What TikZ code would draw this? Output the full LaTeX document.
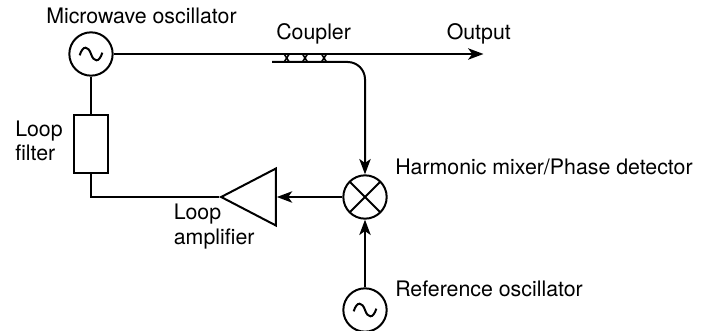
\documentclass[tikz,border=0pt]{standalone}
\usepackage{fontspec}
\setmainfont{TeX Gyre Heros}
\usetikzlibrary{positioning,arrows.meta,calc,shapes.geometric}

\tikzset{
  wire/.style={line width=1.5pt},
  feed/.style={wire, -{Stealth[length=11.5pt,width=8.5pt,inset=3pt]}},
  ring/.style={draw, circle, line width=1.5pt, minimum size=32.5pt, inner sep=0pt},
  osc/.style={ring, path picture={
    \draw[wire] (-8.5pt,-1pt) .. controls (-6pt,7pt) and (-2pt,6pt) .. (0pt,0pt)
      .. controls (2pt,-6pt) and (6pt,-7pt) .. (8.5pt,1pt);}},
  mixer/.style={ring, path picture={
    \draw[wire] (path picture bounding box.north west) -- (path picture bounding box.south east);
    \draw[wire] (path picture bounding box.north east) -- (path picture bounding box.south west);}},
  filterbox/.style={draw, rectangle, line width=1.5pt, minimum width=25.5pt, minimum height=43.5pt, inner sep=0pt},
  amp/.style={draw, isosceles triangle, isosceles triangle apex angle=55, shape border rotate=180,
    line width=1.5pt, minimum height=41pt, inner sep=0pt},
  lbl/.style={inner sep=0pt, font=\fontsize{16}{18.5}\selectfont, align=left}
}

\begin{document}
\begin{tikzpicture}[x=0.75pt, y=-0.75pt]
  \useasboundingbox (0,0) rectangle (709,331);

  \node (micro) [osc] at (91,54) {};
  \node (refosc) [osc] at (365,310) {};
  \node (mixing) [mixer] at (365,197) {};
  \node (filter) [filterbox] at (91,144) {};
  \node (loopamp) [amp, anchor=apex] at (219,197) {};
  \coordinate (bend) at (91,197);
  \coordinate (output) at (483.5,54);
  \coordinate (couplerend) at (272,62);
  \coordinate (couplerturn) at (365,62);

  \draw[wire] (micro) -- (filter);
  \draw[wire] (filter) -- (bend) -- (loopamp.apex);
  \draw[feed] (micro) -- (output);
  \draw[feed, rounded corners=13pt] (couplerend) -- (couplerturn) -- (mixing);
  \draw[feed] (mixing) -- (loopamp.east |- mixing);
  \draw[feed] (refosc) -- (mixing);

  % coupling crosses
  \foreach \xx in {286.7,305,324} {
    \draw[line width=1.2pt] (\xx-2.5,54) -- (\xx+2.5,62);
    \draw[line width=1.2pt] (\xx+2.5,54) -- (\xx-2.5,62);
  }

  \node (microlbl) [lbl, anchor=base west] at (46,24) {Microwave oscillator};
  \node (couplerlbl) [lbl, anchor=base west] at (276,40) {Coupler};
  \node (outputlbl) [lbl, anchor=base west] at (446.5,40) {Output};
  \node (filterlbl) [lbl, anchor=base west] at (15,161) {Loop\\filter};
  \node (amplbl) [lbl, anchor=base west] at (173.5,244) {Loop\\amplifier};
  \node (mixlbl) [lbl, anchor=base west] at (395,175) {Harmonic mixer/Phase detector};
  \node (reflbl) [lbl, anchor=base west] at (395,296.5) {Reference oscillator};
\end{tikzpicture}
\end{document}
